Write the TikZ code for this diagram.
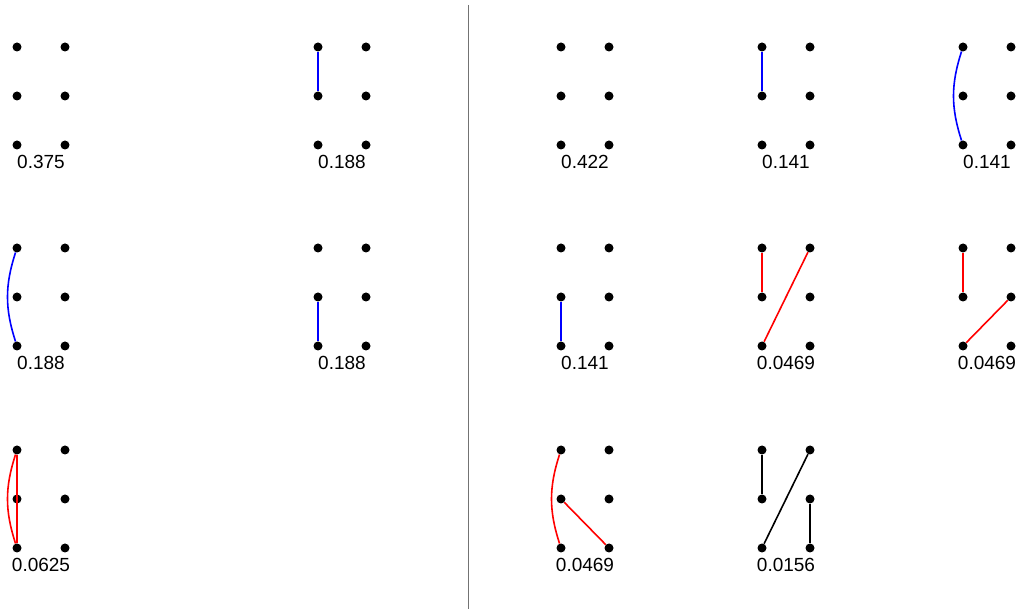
\documentclass[tikz,border=0pt]{standalone}
\usepackage{fontspec}
\setmainfont{Liberation Sans}
\usepackage{tikz}
\usetikzlibrary{positioning}

% six dots of one panel, with its weight below
\newcommand{\dotgrid}[4]{%
  \node[dot] (#1-tl) at (#2,#3) {};
  \node[dot] (#1-tr) at (#2+48,#3) {};
  \node[dot] (#1-ml) at (#2,#3+49) {};
  \node[dot] (#1-mr) at (#2+48,#3+49) {};
  \node[dot] (#1-bl) at (#2,#3+98) {};
  \node[dot] (#1-br) at (#2+48,#3+98) {};
  \node[weight] (#1-w) at (#2+24,#3+108) {#4};
}

\begin{document}
\begin{tikzpicture}[
                    x=1pt, y=-1pt,
                    dot/.style={
                        circle,
                        fill=black,
                        inner sep=0pt,
                        minimum size=9pt
                    },
                    weight/.style={
                        anchor=north,
                        inner sep=0pt,
                        font=\fontsize{19}{21}\selectfont
                    },
                    bluedge/.style={
                        draw=blue,
                        line width=1.6pt
                    },
                    rededge/.style={
                        draw=red,
                        line width=1.6pt
                    },
                    blackedge/.style={
                        draw=black,
                        line width=1.6pt
                    },
                    divider/.style={
                        draw=black!55,
                        line width=1pt
                    }
                ]
                \useasboundingbox (0,0) rectangle (1021,609);

                % Separation
                \coordinate (divtop) at (468,5);
                \coordinate (divbot) at (468,609);
                \draw[divider] (divtop) -- (divbot);

                % Partie gauche
                \dotgrid{a}{17}{47}{0.375}
                \dotgrid{b}{318}{47}{0.188}
                \dotgrid{c}{17}{248}{0.188}
                \dotgrid{d}{318}{248}{0.188}
                \dotgrid{e}{17}{450}{0.0625}

                \draw[bluedge] (b-tl) -- (b-ml);
                \draw[bluedge] (c-tl) to[bend right=18] (c-bl);
                \draw[bluedge] (d-ml) -- (d-bl);
                \draw[rededge] (e-tl) -- (e-bl);
                \draw[rededge] (e-tl) to[bend right=18] (e-bl);

                % Partie droite
                \dotgrid{f}{561}{47}{0.422}
                \dotgrid{g}{762}{47}{0.141}
                \dotgrid{h}{963}{47}{0.141}
                \dotgrid{i}{561}{248}{0.141}
                \dotgrid{j}{762}{248}{0.0469}
                \dotgrid{k}{963}{248}{0.0469}
                \dotgrid{l}{561}{450}{0.0469}
                \dotgrid{m}{762}{450}{0.0156}

                \draw[bluedge] (g-tl) -- (g-ml);
                \draw[bluedge] (h-tl) to[bend right=18] (h-bl);
                \draw[bluedge] (i-ml) -- (i-bl);
                \draw[rededge] (j-tl) -- (j-ml);
                \draw[rededge] (j-bl) -- (j-tr);
                \draw[rededge] (k-tl) -- (k-ml);
                \draw[rededge] (k-bl) -- (k-mr);
                \draw[rededge] (l-tl) to[bend right=18] (l-bl);
                \draw[rededge] (l-ml) -- (l-br);
                \draw[blackedge] (m-tl) -- (m-ml);
                \draw[blackedge] (m-bl) -- (m-tr);
                \draw[blackedge] (m-mr) -- (m-br);

            \end{tikzpicture}
\end{document}
